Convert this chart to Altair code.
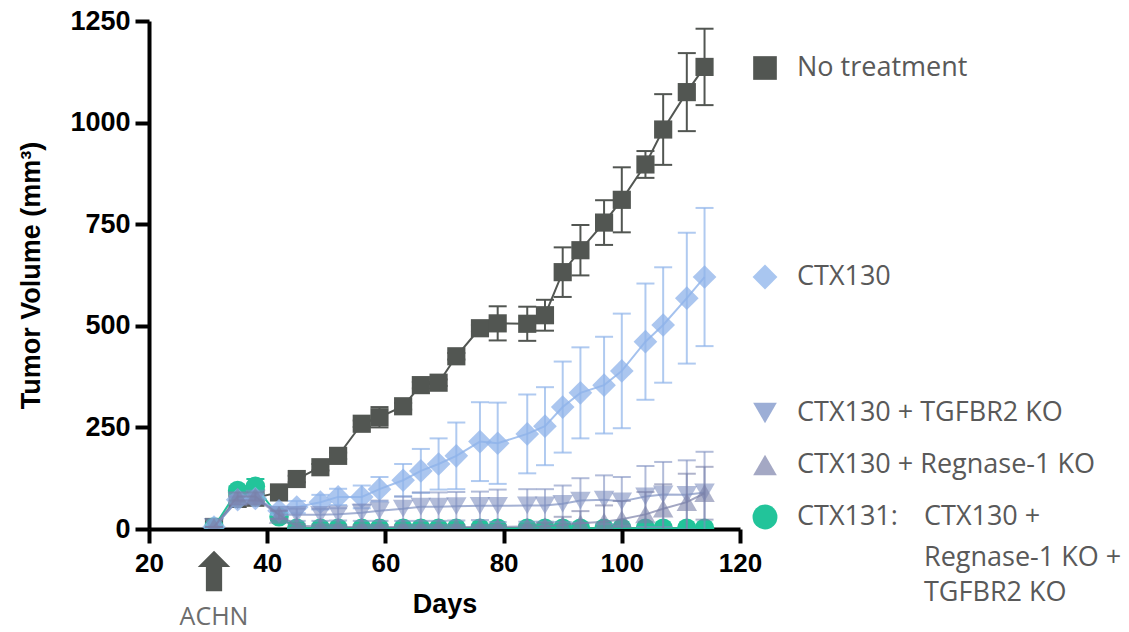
import altair as alt
import pandas as pd

# ---------------- data ----------------
days = [31, 35, 38, 42, 45, 49, 52, 56, 59, 63, 66, 69, 72, 76, 79, 84, 87, 90, 93, 97, 100, 104, 107, 111, 114]

no_tx = [5, 74, 77, 90, 123, 152, 180, 259, 275, 302, 354, 360, 425, 494, 506, 505, 526, 632, 686, 754, 810, 897, 983, 1075, 1137]
no_tx_err = [0, 8, 8, 8, 8, 8, 8, 8, 25, 8, 8, 8, 8, 8, 42, 42, 38, 61, 62, 55, 80, 33, 87, 96, 94]

ctx130 = [5, 72, 75, 45, 54, 66, 79, 79, 98, 120, 143, 160, 180, 215, 211, 234, 253, 300, 335, 354, 389, 461, 502, 568, 620]
ctx130_err = [0, 10, 10, 10, 15, 18, 20, 28, 30, 40, 54, 63, 82, 97, 100, 97, 96, 112, 112, 119, 141, 143, 142, 161, 170]

tgfbr2 = [5, 70, 75, 35, 35, 35, 36, 40, 45, 50, 55, 55, 56, 57, 57, 58, 58, 62, 70, 72, 68, 80, 85, 84, 90]
tgfbr2_err = [0, 10, 10, 10, 15, 15, 15, 20, 25, 30, 35, 35, 35, 35, 40, 40, 40, 45, 55, 60, 60, 75, 80, 85, 100]

regnase = [5, 80, 80, 35, 8, 6, 5, 5, 5, 5, 5, 5, 5, 5, 5, 6, 7, 10, 14, 18, 24, 36, 50, 66, 88]
regnase_err = [0, 10, 10, 10, 5, 5, 5, 5, 5, 5, 5, 5, 5, 5, 5, 5, 8, 20, 30, 40, 45, 55, 60, 70, 65]

ctx131 = [5, 95, 105, 30, 2, 2, 2, 2, 2, 2, 2, 2, 2, 2, 2, 2, 2, 2, 2, 2, 2, 2, 2, 2, 2]
ctx131_err = [0, 10, 18, 8, 2, 2, 2, 2, 2, 2, 2, 2, 2, 2, 2, 2, 2, 2, 2, 2, 2, 2, 2, 2, 2]

group_names = ["No treatment", "CTX131", "CTX130", "CTX130 + TGFBR2 KO", "CTX130 + Regnase-1 KO"]
group_means = [no_tx, ctx131, ctx130, tgfbr2, regnase]
group_errs = [no_tx_err, ctx131_err, ctx130_err, tgfbr2_err, regnase_err]

legend_labels = ["No treatment", "CTX130", "CTX130 + TGFBR2 KO", "CTX130 + Regnase-1 KO",
                 "CTX131:", "CTX130 +", "Regnase-1 KO +", "TGFBR2 KO"]

x_ticks = [20, 40, 60, 80, 100, 120]
y_ticks = [0, 250, 500, 750, 1000, 1250]

# ---------------- styles ----------------
styles = {
    "No treatment": dict(color="#525652", shape="square", size=330, opacity=1.0, lop=1.0, eop=1.0),
    "CTX131": dict(color="#22c49a", shape="circle", size=380, opacity=1.0, lop=1.0, eop=1.0),
    "CTX130": dict(color="#8fb3ea", shape="diamond", size=560, opacity=0.75, lop=0.8, eop=0.7),
    "CTX130 + TGFBR2 KO": dict(color="#7e90c0", shape="triangle-down", size=420, opacity=0.6, lop=0.7, eop=0.6),
    "CTX130 + Regnase-1 KO": dict(color="#7a80a8", shape="triangle-up", size=420, opacity=0.6, lop=0.7, eop=0.6),
}

PLOT_W, PLOT_H = 591, 508
PAD_L, PAD_T = 149, 21

x_scale = alt.Scale(domain=[20, 120], nice=False, zero=False)
y_scale = alt.Scale(domain=[0, 1250], nice=False)

x_axis = alt.Axis(values=x_ticks, format="d", title="Days", labelFont="Liberation Sans", labelFontWeight="bold",
                  labelFontSize=26, labelColor="black", titleFont="Liberation Sans", titleFontWeight="bold",
                  titleFontSize=27, titleColor="black", domainColor="black", domainWidth=4, tickColor="black",
                  tickWidth=4, tickSize=14, labelPadding=7, titlePadding=15, grid=False, labelFlush=False)
y_axis = alt.Axis(values=y_ticks, format="d", title="Tumor Volume (mm³)", labelFont="Liberation Sans",
                  labelFontWeight="bold", labelFontSize=27, labelColor="black", titleFont="Liberation Sans",
                  titleFontWeight="bold", titleFontSize=27, titleColor="black", domainColor="black", domainWidth=4,
                  tickColor="black", tickWidth=4, tickSize=14, labelPadding=5, titlePadding=24, grid=False,
                  labelFlush=False)


def X(field):
    return alt.X(field, scale=x_scale, axis=x_axis)


def Y(field):
    return alt.Y(field, scale=y_scale, axis=y_axis)


# axis-only base layer
axis_df = pd.DataFrame({"Day": [20, 120], "Mean": [0, 1250]})
layers = [alt.Chart(axis_df).mark_point(opacity=0).encode(x=X("Day:Q"), y=Y("Mean:Q"))]

for name, means, errs in zip(group_names, group_means, group_errs):
    st = styles[name]
    df = pd.DataFrame({"Day": days, "Mean": means, "Err": errs})
    df["lo"] = df["Mean"] - df["Err"]
    df["hi"] = df["Mean"] + df["Err"]
    base = alt.Chart(df)
    ebar = base.mark_rule(color=st["color"], opacity=st["eop"], strokeWidth=2, clip=True).encode(
        x=X("Day:Q"), y=Y("lo:Q"), y2="hi:Q")
    cap_hi = base.mark_rule(color=st["color"], opacity=st["eop"], strokeWidth=2, xOffset=-9, x2Offset=9, clip=True).encode(
        x=X("Day:Q"), x2="Day:Q", y=Y("hi:Q"))
    cap_lo = base.mark_rule(color=st["color"], opacity=st["eop"], strokeWidth=2, xOffset=-9, x2Offset=9, clip=True).encode(
        x=X("Day:Q"), x2="Day:Q", y=Y("lo:Q"))
    line = base.mark_line(color=st["color"], opacity=st["lop"], strokeWidth=2, clip=True).encode(
        x=X("Day:Q"), y=Y("Mean:Q"))
    pts = base.mark_point(shape=st["shape"], size=st["size"], filled=True, color=st["color"],
                          opacity=st["opacity"], strokeWidth=0, clip=True).encode(
        x=X("Day:Q"), y=Y("Mean:Q"))
    layers += [ebar, cap_hi, cap_lo, line, pts]

# ---------------- ACHN arrow annotation ----------------
arrow_df = pd.DataFrame({"Day": [31], "label": ["ACHN"]})
arrow = alt.Chart(arrow_df).mark_point(
    shape="M0,-1 L0.8,-0.2 L0.4,-0.2 L0.4,1 L-0.4,1 L-0.4,-0.2 L-0.8,-0.2 Z",
    filled=True, color="#525652", size=1650, strokeWidth=0, opacity=1).encode(
    x=X("Day:Q"), y=alt.value(571 - PAD_T))
achn = alt.Chart(arrow_df).mark_text(font="Open Sans", fontSize=25, color="#6d6d6d", baseline="middle").encode(
    x=X("Day:Q"), y=alt.value(617 - PAD_T), text="label:N")
layers += [arrow, achn]

# ---------------- legend (pixel positions) ----------------
leg_y = [68, 277, 413, 465, 517]
leg_shapes = ["square", "diamond", "triangle-down", "triangle-up", "circle"]
leg_colors = ["#525652", "#a9c6f0", "#9caed6", "#a4a8c4", "#22c49a"]
leg_sizes = [560, 620, 560, 560, 620]
for yy, sh, co, sz in zip(leg_y, leg_shapes, leg_colors, leg_sizes):
    layers.append(alt.Chart(axis_df.head(1)).mark_point(shape=sh, filled=True, color=co, size=sz,
                                                        strokeWidth=0, opacity=1).encode(
        x=alt.value(765 - PAD_L), y=alt.value(yy - PAD_T)))

text_x = [797] * 5 + [924] * 3
text_y = [68, 277, 413, 465, 517, 517, 558, 593]
for tx, ty, lab in zip(text_x, text_y, legend_labels):
    layers.append(alt.Chart(axis_df.head(1)).mark_text(align="left", baseline="middle", font="Open Sans",
                                                       fontSize=27, color="#595959", text=lab).encode(
        x=alt.value(tx - PAD_L), y=alt.value(ty - PAD_T)))

chart = alt.layer(*layers).properties(
    width=PLOT_W, height=PLOT_H,
    autosize=alt.AutoSizeParams(type="none"),
    padding={"left": PAD_L, "top": PAD_T, "right": 1129 - PAD_L - PLOT_W, "bottom": 632 - PAD_T - PLOT_H},
    background="white",
).configure_view(stroke=None)

chart.save("out.html", embed_options={"renderer": "svg", "actions": False})
